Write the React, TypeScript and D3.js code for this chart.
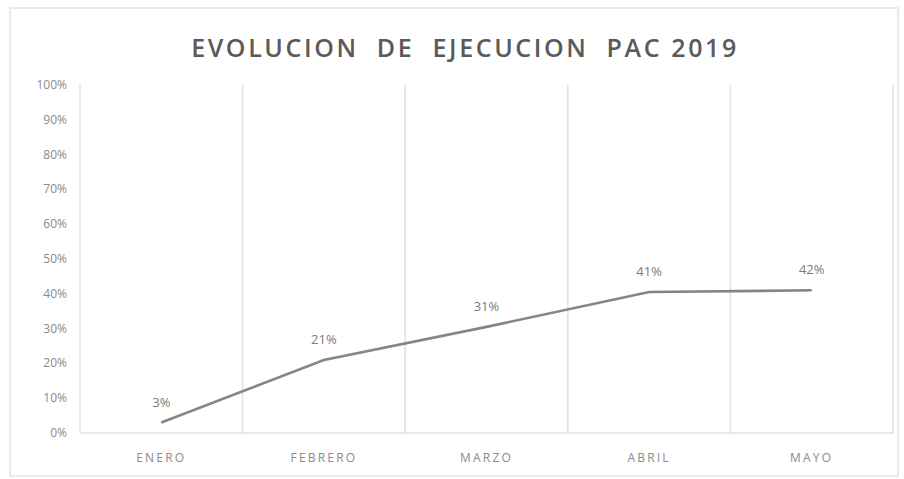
import React from "react";
import * as d3 from "d3";

const months = ["ENERO", "FEBRERO", "MARZO", "ABRIL", "MAYO"];
const execution = [0.03, 0.21, 0.305, 0.405, 0.41];
const pointLabels = ["3%", "21%", "31%", "41%", "42%"];
const yTicks = [0, 0.1, 0.2, 0.3, 0.4, 0.5, 0.6, 0.7, 0.8, 0.9, 1.0];
const title = "EVOLUCION  DE  EJECUCION  PAC 2019";

export default function App() {
  const W = 904, H = 479;
  const left = 80, right = 893, top = 85, bottom = 433;
  const x = d3.scaleBand().domain(months).range([left, right]).padding(0);
  const y = d3.scaleLinear().domain([0, 1]).range([bottom, top]);
  const cx = (m: string) => (x(m) as number) + x.bandwidth() / 2;
  const line = d3.line<number>().x((_, i) => cx(months[i])).y((d) => y(d));
  const font = "'Open Sans', 'DejaVu Sans', sans-serif";
  const boundaries = months.map((m) => x(m) as number).concat([right]);
  return (
    <svg width={W} height={H} style={{ position: "absolute", left: 0, top: 0, background: "#fff" }}>
      <rect x={10} y={8} width={888} height={468} fill="#fff" stroke="#e2e2e2" strokeWidth={1.5} />
      <text x={465} y={57} textAnchor="middle" fontFamily={font} fontSize={25} fontWeight={600}
        fill="#5a5a5a" letterSpacing={2.6} style={{ whiteSpace: "pre" }}>{title}</text>
      {boundaries.map((b, i) => (
        <line key={i} x1={b} x2={b} y1={top} y2={bottom} stroke="#e0e0e0" strokeWidth={1.5} />
      ))}
      <line x1={left} x2={right} y1={bottom} y2={bottom} stroke="#e0e0e0" strokeWidth={1.5} />
      {yTicks.map((t) => (
        <text key={t} x={67} y={y(t) + 4} textAnchor="end" fontFamily={font} fontSize={12}
          fill="#8a8a8a">{Math.round(t * 100) + "%"}</text>
      ))}
      {months.map((m) => (
        <text key={m} x={cx(m)} y={462} textAnchor="middle" fontFamily={font} fontSize={12}
          fill="#8a8a8a" letterSpacing={2.2}>{m}</text>
      ))}
      <path d={line(execution) || ""} fill="none" stroke="#858585" strokeWidth={2.6} />
      {execution.map((v, i) => (
        <text key={i} x={cx(months[i])} y={y(v) - 16} textAnchor="middle" fontFamily={font} fontSize={13}
          fill="#7a7a7a">{pointLabels[i]}</text>
      ))}
    </svg>
  );
}
